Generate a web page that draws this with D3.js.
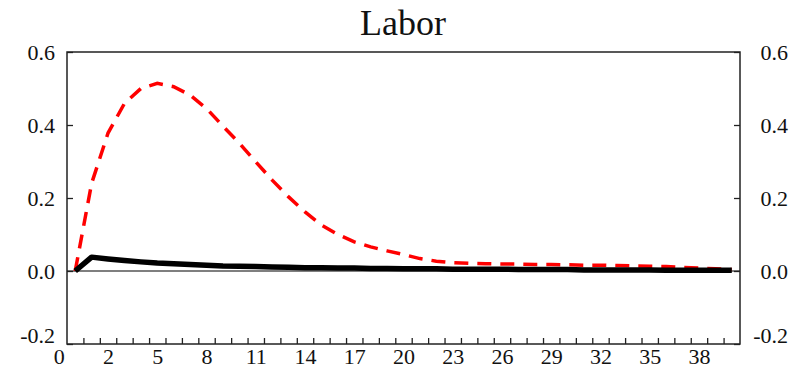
<!DOCTYPE html>
<html><head><meta charset="utf-8">
<script src="https://cdn.jsdelivr.net/npm/d3@7"></script>
<style>body{margin:0;background:#fff}svg text{font-family:"Liberation Serif","Times New Roman",Times,serif !important;fill:#111}</style>
</head><body>
<svg id="c" width="796" height="372"></svg>
<script>
const title = "Labor";
const periods = d3.range(0, 41);
const seriesBlack = [0,0.038,0.033,0.029,0.025,0.022,0.020,0.018,0.016,0.014,0.013,0.012,0.011,0.010,0.009,0.009,0.008,0.008,0.007,0.007,0.006,0.006,0.006,0.005,0.005,0.005,0.005,0.004,0.004,0.004,0.004,0.003,0.003,0.003,0.003,0.003,0.002,0.002,0.002,0.002,0.002];
const seriesRed = [0,0.240,0.378,0.459,0.500,0.514,0.505,0.482,0.445,0.397,0.350,0.299,0.249,0.203,0.162,0.126,0.100,0.080,0.066,0.055,0.045,0.034,0.027,0.023,0.021,0.020,0.019,0.019,0.018,0.018,0.017,0.016,0.016,0.015,0.014,0.013,0.012,0.010,0.008,0.006,0.004];
const yTicks = [-0.2, 0.0, 0.2, 0.4, 0.6];
const xTickLabels = ["0","2","5","8","11","14","17","20","23","26","29","32","35","38"];
const xTickPos = [-1,2,5,8,11,14,17,20,23,26,29,32,35,38];

const L=67,R=740,T=52,B=344;
const svg=d3.select("#c");
const x=d3.scaleLinear().domain([-0.5,40.5]).range([L,R]);
const y=d3.scaleLinear().domain([-0.2,0.6]).range([B,T]);
const fmt=d=>d3.format(".1f")(d).replace("\u2212","-");

svg.append("text").attr("x",403).attr("y",35).attr("text-anchor","middle").style("font-size","36px").text(title);

svg.append("line").attr("x1",L).attr("x2",R).attr("y1",y(0)).attr("y2",y(0)).attr("stroke","#000").attr("stroke-width",1.2);

const gl=svg.append("g").attr("transform",`translate(${L},0)`)
 .call(d3.axisLeft(y).tickValues(yTicks).tickFormat(fmt).tickSize(-6).tickPadding(12));
const gr=svg.append("g").attr("transform",`translate(${R},0)`)
 .call(d3.axisRight(y).tickValues(yTicks).tickFormat(fmt).tickSize(-6).tickPadding(12));
gr.selectAll("text").attr("text-anchor","end").attr("x",48);
const gb=svg.append("g").attr("transform",`translate(0,${B})`)
 .call(d3.axisBottom(x).tickValues(d3.range(0,40).map(i=>i+0.5)).tickFormat("").tickSize(-6));
const gx=svg.append("g").attr("transform",`translate(0,${B})`)
 .call(d3.axisBottom(x).tickValues(xTickPos).tickFormat((d,i)=>xTickLabels[i]).tickSize(0).tickPadding(4));
[gl,gr,gb,gx].forEach(g=>{g.attr("font-family",null);g.select(".domain").remove();g.selectAll("line").attr("stroke","#222").attr("stroke-width",1.3);g.selectAll("text").style("font-size","22px").attr("fill","#111");});
[gl,gr].forEach(g=>g.selectAll("text").attr("dy",d=>d===-0.2?"-0.08em":"0.33em"));

svg.append("rect").attr("x",L).attr("y",T).attr("width",R-L).attr("height",B-T).attr("fill","none").attr("stroke","#222").attr("stroke-width",1.5);

const line=d3.line().x((d,i)=>x(periods[i])).y(d=>y(d));
svg.append("path").datum(seriesRed).attr("d",line).attr("fill","none").attr("stroke","#ff0000").attr("stroke-width",3.5).attr("stroke-dasharray","14,9");
svg.append("path").datum(seriesBlack).attr("d",line).attr("fill","none").attr("stroke","#000").attr("stroke-width",5.5).attr("stroke-linejoin","round");
</script>
</body></html>
